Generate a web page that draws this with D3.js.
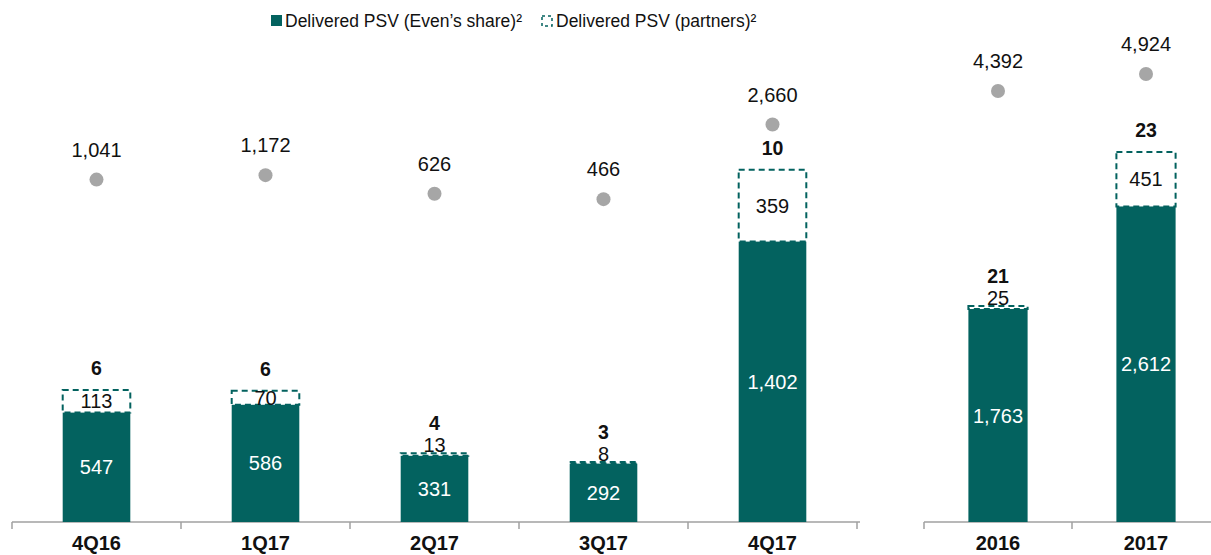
<!DOCTYPE html>
<html>
<head>
<meta charset="utf-8">
<script src="https://cdn.jsdelivr.net/npm/d3@7"></script>
<style>
  body { margin: 0; background: #fff; }
  svg text { font-family: "Liberation Sans", Arial, sans-serif; }
</style>
</head>
<body>
<svg id="chart" width="1211" height="555"></svg>
<script>
// quarterly panel
var quarters = ["4Q16", "1Q17", "2Q17", "3Q17", "4Q17"]
var qEven = [547, 586, 331, 292, 1402]
var qPartners = [113, 70, 13, 8, 359]
var qProjects = [6, 6, 4, 3, 10]
var qDots = [1041, 1172, 626, 466, 2660]

// yearly panel
var years = ["2016", "2017"]
var yEven = [1763, 2612]
var yPartners = [25, 451]
var yProjects = [21, 23]
var yDots = [4392, 4924]

var legendLabels = ["Delivered PSV (Even\u2019s share)\u00b2", "Delivered PSV (partners)\u00b2"]

var teal = "#03625F", grey = "#A6A6A6", axisGrey = "#A0A0A0"
var fmt = d3.format(",")
var svg = d3.select("#chart")
var baseY = 522

function drawPanel(cats, even, partners, projects, dots, x, y, yDot) {
  var g = svg.append("g")
  var bw = x.bandwidth() * 0.4
  var data = cats.map(function(c, i) {
    return { cat: c, even: even[i], partners: partners[i], projects: projects[i], dot: dots[i] }
  })

  // axis line + boundary ticks
  var r = x.range()
  g.append("line").attr("x1", r[0]).attr("x2", r[1] + 3).attr("y1", baseY).attr("y2", baseY)
    .attr("stroke", axisGrey).attr("stroke-width", 1.5)
  var bounds = cats.map(function(c) { return x(c) }).concat([r[1]])
  g.selectAll(".tk").data(bounds).enter().append("line")
    .attr("x1", function(d) { return d }).attr("x2", function(d) { return d })
    .attr("y1", baseY).attr("y2", baseY + 7)
    .attr("stroke", axisGrey).attr("stroke-width", 1.5)

  // category labels
  g.selectAll(".cat").data(data).enter().append("text")
    .attr("x", function(d) { return x(d.cat) + x.bandwidth() / 2 })
    .attr("y", 550)
    .attr("text-anchor", "middle")
    .attr("font-size", 20).attr("font-weight", "bold").attr("fill", "#111")
    .text(function(d) { return d.cat })

  var cx = function(d) { return x(d.cat) + x.bandwidth() / 2 }

  // partners dashed box
  g.selectAll(".part").data(data).enter().append("rect")
    .attr("x", function(d) { return cx(d) - bw / 2 })
    .attr("y", function(d) { return y(d.even + d.partners) })
    .attr("width", bw)
    .attr("height", function(d) { return y(d.even) - y(d.even + d.partners) })
    .attr("fill", "#fff").attr("stroke", teal).attr("stroke-width", 2)
    .attr("stroke-dasharray", "6,4")

  // even bars
  g.selectAll(".even").data(data).enter().append("rect")
    .attr("x", function(d) { return cx(d) - bw / 2 })
    .attr("y", function(d) { return y(d.even) })
    .attr("width", bw)
    .attr("height", function(d) { return y(0) - y(d.even) })
    .attr("fill", teal)

  g.selectAll(".evl").data(data).enter().append("text")
    .attr("x", cx)
    .attr("y", function(d) { return (y(0) + y(d.even)) / 2 })
    .attr("dy", "0.35em").attr("text-anchor", "middle")
    .attr("font-size", 20).attr("fill", "#fff")
    .text(function(d) { return fmt(d.even) })

  // partner labels: centered if room, otherwise just above
  var partY = function(d) {
    var top = y(d.even + d.partners), h = y(d.even) - top
    return h > 12 ? top + h / 2 : top - 8
  }
  g.selectAll(".pl").data(data).enter().append("text")
    .attr("x", cx)
    .attr("y", partY)
    .attr("dy", "0.35em").attr("text-anchor", "middle")
    .attr("font-size", 20).attr("fill", "#111")
    .text(function(d) { return fmt(d.partners) })

  // project counts
  g.selectAll(".pc").data(data).enter().append("text")
    .attr("x", cx)
    .attr("y", function(d) {
      var top = y(d.even + d.partners)
      return Math.min(top - 22, partY(d) - 22)
    })
    .attr("dy", "0.35em").attr("text-anchor", "middle")
    .attr("font-size", 19.5).attr("font-weight", "bold").attr("fill", "#111")
    .text(function(d) { return d.projects })

  // grey dots
  g.selectAll(".dot").data(data).enter().append("circle")
    .attr("cx", cx).attr("cy", function(d) { return yDot(d.dot) })
    .attr("r", 7).attr("fill", grey)
  g.selectAll(".dl").data(data).enter().append("text")
    .attr("x", cx).attr("y", function(d) { return yDot(d.dot) - 30 })
    .attr("dy", "0.35em").attr("text-anchor", "middle")
    .attr("font-size", 20).attr("fill", "#111")
    .text(function(d) { return fmt(d.dot) })
}

// left panel scales
var xQ = d3.scaleBand().domain(quarters).range([12, 857])
var yQ = d3.scaleLinear().domain([0, 2000]).range([baseY, baseY - 400])
var dQ = d3.scaleLinear().domain([0, 3000]).range([215, 215 - 102])
drawPanel(quarters, qEven, qPartners, qProjects, qDots, xQ, yQ, dQ)

// right panel scales
var xY = d3.scaleBand().domain(years).range([924, 1220])
var yY = d3.scaleLinear().domain([0, 3000]).range([baseY, baseY - 362.4])
var dY = d3.scaleLinear().domain([0, 5000]).range([231.5, 231.5 - 160])
drawPanel(years, yEven, yPartners, yProjects, yDots, xY, yY, dY)

// legend
var lg = svg.append("g")
lg.append("rect").attr("x", 271).attr("y", 15).attr("width", 11).attr("height", 11).attr("fill", teal)
lg.append("text").attr("x", 285).attr("y", 21).attr("dy", "0.35em")
  .attr("font-size", 17.5).attr("fill", "#111").text(legendLabels[0])
lg.append("rect").attr("x", 542).attr("y", 16).attr("width", 10).attr("height", 10)
  .attr("fill", "none").attr("stroke", teal).attr("stroke-width", 1.5).attr("stroke-dasharray", "3,3")
lg.append("text").attr("x", 556).attr("y", 21).attr("dy", "0.35em")
  .attr("font-size", 17.5).attr("fill", "#111").text(legendLabels[1])
</script>
</body>
</html>
